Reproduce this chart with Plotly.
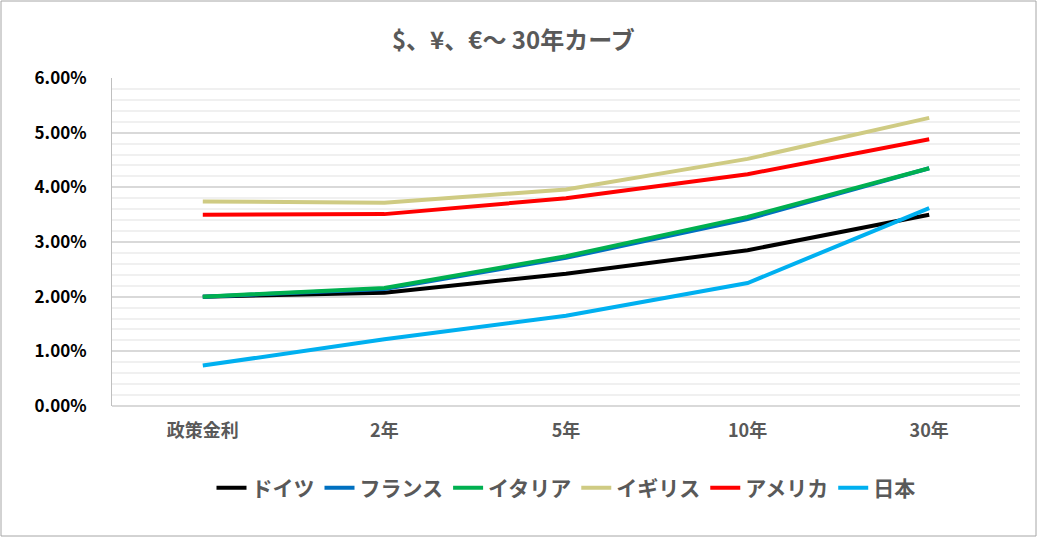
import plotly.graph_objects as go

# maturities on the x axis
categories = ["政策金利", "2年", "5年", "10年", "30年"]

# yields (%)
germany = [2.00, 2.07, 2.42, 2.85, 3.50]
france = [2.00, 2.14, 2.71, 3.42, 4.35]
italy = [2.00, 2.16, 2.74, 3.46, 4.35]
uk = [3.74, 3.72, 3.96, 4.52, 5.27]
usa = [3.50, 3.51, 3.80, 4.24, 4.88]
japan = [0.74, 1.22, 1.65, 2.25, 3.62]

series = [
    ("ドイツ", germany, "#000000"),
    ("フランス", france, "#0070C0"),
    ("イタリア", italy, "#00B050"),
    ("イギリス", uk, "#CFCB83"),
    ("アメリカ", usa, "#FF0000"),
    ("日本", japan, "#00B0F0"),
]

font = "Noto Sans CJK JP"
grey = "#595959"
W, H = 1037, 537
L, R, T, B = 112, 17, 78, 131

fig = go.Figure()
for name, vals, col in series:
    fig.add_trace(go.Scatter(x=categories, y=[v / 100 for v in vals], name=name, mode="lines",
                             line=dict(color=col, width=4)))

fig.update_layout(
    width=W, height=H,
    paper_bgcolor="white", plot_bgcolor="white",
    margin=dict(l=L, r=R, t=T, b=B),
    title=dict(text="<b>$、¥、€～ 30年カーブ</b>", x=0.495, xref="container", y=0.925, yanchor="middle",
               font=dict(family=font, size=24, color=grey)),
    font=dict(family=font, color=grey),
    legend=dict(orientation="h", x=0.5, xanchor="center", y=-0.25, yanchor="middle",
                font=dict(family=font, size=21, color=grey, weight="bold"), itemwidth=30,
                traceorder="normal"),
    showlegend=True,
)
fig.update_xaxes(range=[-0.5, 4.5], showgrid=False, showline=False, ticks="",
                 tickfont=dict(size=18, family=font, color=grey, weight="bold"), ticklabelstandoff=12)
fig.update_yaxes(range=[0, 0.06], dtick=0.01, tickformat=".2%", showline=True, linecolor="#BFBFBF",
                 gridcolor="#D9D9D9", gridwidth=1.5, zeroline=True, zerolinecolor="#D9D9D9", zerolinewidth=1.5,
                 minor=dict(dtick=0.002, showgrid=True, gridcolor="#F0F0F0", gridwidth=1.5),
                 tickfont=dict(size=17, family=font, color="#000000", weight="bold"), ticklabelstandoff=21)

# grey border around the whole chart
pw, ph = W - L - R, H - T - B
fig.add_shape(type="rect", xref="paper", yref="paper",
              x0=-(L - 1) / pw, x1=1 + (R - 1) / pw, y0=-(B - 1) / ph, y1=1 + (T - 1) / ph,
              line=dict(color="#A6A6A6", width=1))

fig.write_html("out.html", config={"displayModeBar": False},
               post_script="document.body.style.margin='0';")
